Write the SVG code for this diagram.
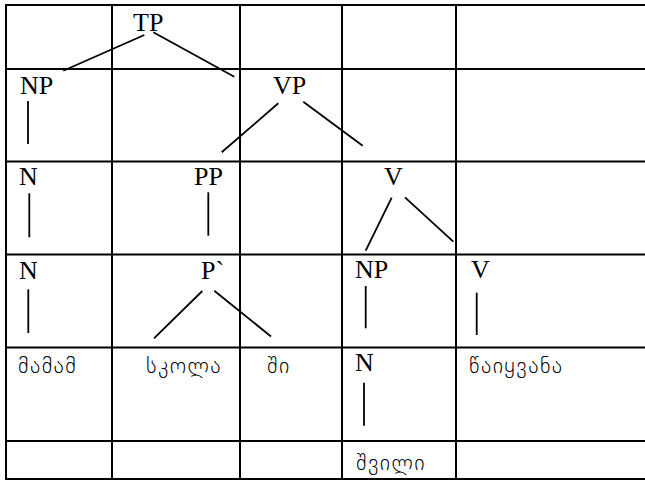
<svg xmlns="http://www.w3.org/2000/svg" width="645" height="480" viewBox="0 0 645 480">
  <style>
    .grid { stroke: #000; stroke-width: 2; fill: none; }
    .edge { stroke: #000; stroke-width: 1.8; fill: none; }
    .lbl { font-family: "Liberation Serif", "Times New Roman", serif; font-size: 26px; fill: #000; }
    .geo { font-family: "DejaVu Sans ExtraLight", "DejaVu Sans", "Noto Sans", sans-serif; font-weight: 200; font-size: 22px; letter-spacing: 1.4px; fill: #000; }
  </style>
  <rect width="645" height="480" fill="#fff"/>

  <!-- table grid -->
  <g id="grid" class="grid">
    <line x1="5" y1="5" x2="650" y2="5"/>
    <line x1="5" y1="69" x2="650" y2="69"/>
    <line x1="5" y1="161.5" x2="650" y2="161.5"/>
    <line x1="5" y1="254.5" x2="650" y2="254.5"/>
    <line x1="5" y1="347.5" x2="650" y2="347.5"/>
    <line x1="5" y1="441" x2="650" y2="441"/>
    <line x1="5" y1="479" x2="650" y2="479"/>
    <line x1="6" y1="4" x2="6" y2="480"/>
    <line x1="112" y1="4" x2="112" y2="480"/>
    <line x1="240" y1="4" x2="240" y2="480"/>
    <line x1="342" y1="4" x2="342" y2="480"/>
    <line x1="456" y1="4" x2="456" y2="480"/>
  </g>

  <!-- tree nodes -->
  <g id="tp"><text class="lbl" x="133" y="31">TP</text></g>
  <g id="np1"><text class="lbl" x="20" y="94">NP</text></g>
  <g id="vp"><text class="lbl" x="273" y="94">VP</text></g>
  <g id="n1"><text class="lbl" x="19" y="185">N</text></g>
  <g id="pp"><text class="lbl" x="194" y="185">PP</text></g>
  <g id="v1"><text class="lbl" x="384" y="185">V</text></g>
  <g id="n2"><text class="lbl" x="19" y="279">N</text></g>
  <g id="pbar"><text class="lbl" x="201" y="279">P`</text></g>
  <g id="np2"><text class="lbl" x="355" y="278">NP</text></g>
  <g id="v2"><text class="lbl" x="471" y="278">V</text></g>
  <g id="n3"><text class="lbl" x="355" y="371">N</text></g>

  <!-- words -->
  <g id="w-mamam"><text class="geo" x="18" y="373">მამამ</text></g>
  <g id="w-skola"><text class="geo" x="146" y="373">სკოლა</text></g>
  <g id="w-shi"><text class="geo" x="267" y="373">ში</text></g>
  <g id="w-caiqvana"><text class="geo" x="469" y="373">წაიყვანა</text></g>
  <g id="w-shvili"><text class="geo" x="356" y="470">შვილი</text></g>

  <!-- branches -->
  <g id="connectors" class="edge">
    <line x1="144.3" y1="35" x2="63.3" y2="70.7"/>
    <line x1="153.3" y1="32.3" x2="234.3" y2="76.7"/>
    <line x1="28" y1="101" x2="28" y2="144"/>
    <line x1="278.3" y1="103.3" x2="221.7" y2="152.3"/>
    <line x1="303.3" y1="101.7" x2="362.7" y2="145.7"/>
    <line x1="29.3" y1="193.3" x2="29.3" y2="237.3"/>
    <line x1="208.3" y1="192.3" x2="208.3" y2="235.7"/>
    <line x1="391.7" y1="197.7" x2="365.7" y2="250.7"/>
    <line x1="405" y1="197.3" x2="453.3" y2="241.7"/>
    <line x1="28.3" y1="289.3" x2="28.3" y2="333"/>
    <line x1="202.3" y1="291" x2="154" y2="338.3"/>
    <line x1="214.3" y1="290.7" x2="271" y2="336.5"/>
    <line x1="365.7" y1="286" x2="365.7" y2="328.3"/>
    <line x1="476.7" y1="292.7" x2="476.7" y2="335"/>
    <line x1="364" y1="382.7" x2="364" y2="425.7"/>
  </g>
</svg>
